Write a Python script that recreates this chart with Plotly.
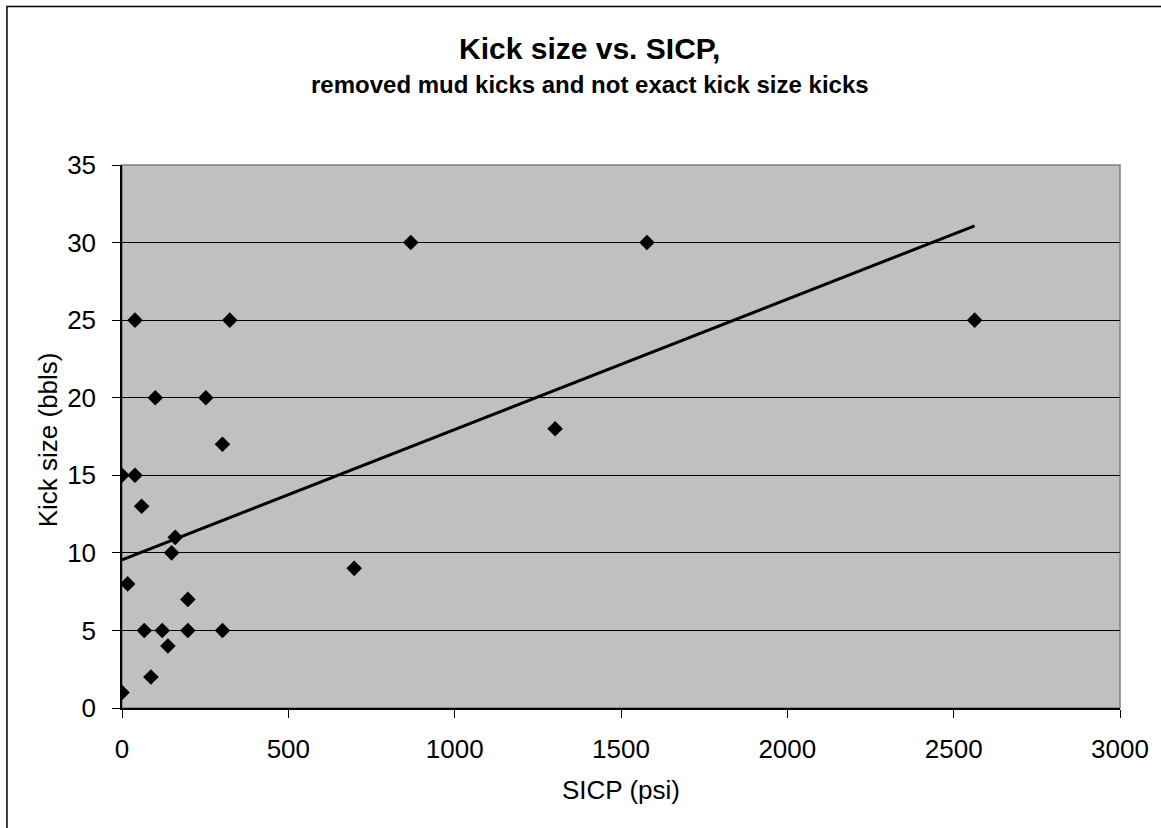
import plotly.graph_objects as go

# Shut-in casing pressure (psi) and kick volume (bbls) per recorded kick
sicp_psi = [0, 17, 0, 39, 59, 67, 87, 121, 138, 149, 160, 198,
            198, 302, 302, 698, 39, 324, 100, 252, 868, 1578, 1302, 2563]
kick_bbls = [1, 8, 15, 15, 13, 5, 2, 5, 4, 10, 11, 7,
             5, 5, 17, 9, 25, 25, 20, 20, 30, 30, 18, 25]

# Linear trendline coefficients (kick = intercept + slope * SICP)
trend_intercept = 9.55
trend_slope = 0.0084

x_ticks = [0, 500, 1000, 1500, 2000, 2500, 3000]
y_ticks = [0, 5, 10, 15, 20, 25, 30, 35]

FONT = "Liberation Sans, Arial, sans-serif"

W, H = 1161, 828
L, R, T, B = 122, 37, 165, 120
pw, ph = W - L - R, H - T - B


def px_x(p):
    return (p - L) / pw


def px_y(p):
    return (H - B - p) / ph


trend_x = [0, max(sicp_psi)]
trend_y = [trend_intercept + trend_slope * v for v in trend_x]

fig = go.Figure()
fig.add_trace(go.Scatter(
    x=trend_x, y=trend_y, mode="lines",
    line=dict(color="black", width=3), hoverinfo="skip", showlegend=False,
))
fig.add_trace(go.Scatter(
    x=sicp_psi, y=kick_bbls, mode="markers",
    marker=dict(symbol="diamond", size=12, color="black"),
    showlegend=False,
))

axis_common = dict(
    showline=True, linecolor="black", linewidth=1.5,
    ticks="outside", tickcolor="black", ticklen=8, tickwidth=1,
    tickfont=dict(family=FONT, size=26, color="black"),
    zeroline=False,
)

fig.update_xaxes(
    range=[0, 3000], tickvals=x_ticks, showgrid=False,
    ticklabelstandoff=9, **axis_common,
)
fig.update_yaxes(
    range=[0, 35], tickvals=y_ticks, showgrid=True,
    gridcolor="black", gridwidth=1, ticklabelstandoff=11, **axis_common,
)

shapes = [
    # plot-area frame
    dict(type="rect", xref="paper", yref="paper", x0=0, y0=0, x1=1, y1=1,
         line=dict(color="#808080", width=1.5), layer="below"),
    # chart-area frame
    dict(type="rect", xref="paper", yref="paper",
         x0=px_x(6.5), y0=px_y(H + 20), x1=px_x(W + 20), y1=px_y(6.5),
         line=dict(color="black", width=1.5)),
]

annotations = [
    dict(text="<b>Kick size vs. SICP,</b>", xref="paper", yref="paper",
         x=px_x(591), y=px_y(48), xanchor="center", yanchor="middle",
         showarrow=False, font=dict(family=FONT, size=30, color="black")),
    dict(text="<b>removed mud kicks and not exact kick size kicks</b>",
         xref="paper", yref="paper", x=px_x(591.5), y=px_y(85),
         xanchor="center", yanchor="middle", showarrow=False,
         font=dict(family=FONT, size=24, color="black")),
    dict(text="SICP (psi)", xref="paper", yref="paper",
         x=px_x(623), y=px_y(790), xanchor="center", yanchor="middle",
         showarrow=False, font=dict(family=FONT, size=26, color="black")),
    dict(text="Kick size (bbls)", xref="paper", yref="paper",
         x=px_x(48), y=px_y(440), xanchor="center", yanchor="middle",
         textangle=-90, showarrow=False,
         font=dict(family=FONT, size=26, color="black")),
]

fig.update_layout(
    width=W, height=H,
    margin=dict(l=L, r=R, t=T, b=B, pad=0),
    paper_bgcolor="white", plot_bgcolor="#C0C0C0",
    shapes=shapes, annotations=annotations,
    showlegend=False,
)

fig.write_html("out.html")
